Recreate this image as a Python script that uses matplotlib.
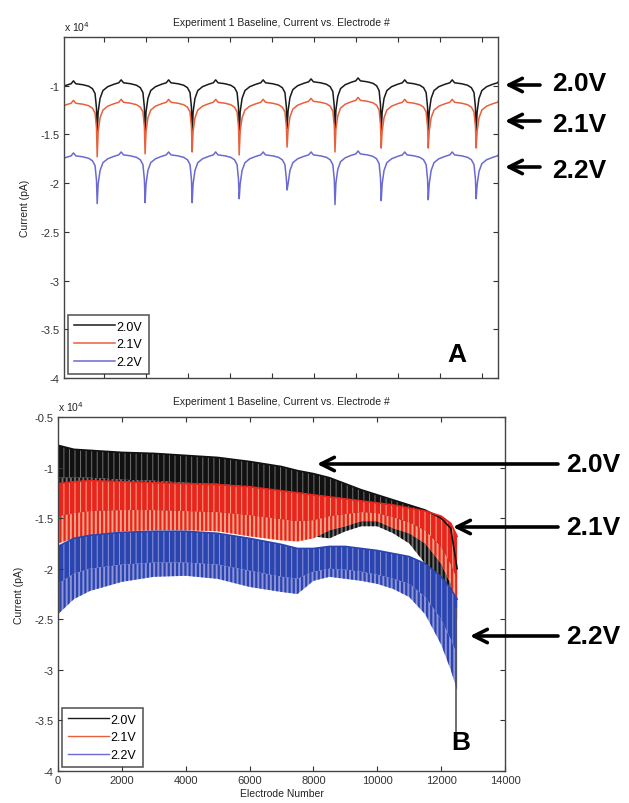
import numpy as np
import matplotlib
matplotlib.use("Agg")
import matplotlib.pyplot as plt
from matplotlib.ticker import FormatStrFormatter

plt.rcParams['font.family'] = ['Liberation Sans', 'DejaVu Sans']

# ---------------- panel A data (x in electrode #, y in 1e4 pA) ----------------
# electrode position of each dip (first and last lie just outside the axes)
a_dips = [-30, 83, 197, 309, 421, 535, 649, 759, 871, 985, 1098]
# shape of one arch between two dips: fraction of cycle, offset from plateau
arch_frac = [0.02, 0.06, 0.12, 0.22, 0.35, 0.45, 0.50, 0.55, 0.70, 0.82, 0.90, 0.955, 0.985]
arch_off = [-0.30, -0.16, -0.08, -0.04, -0.015, 0.0, 0.03, 0.0, -0.01, -0.025, -0.05, -0.10, -0.25]

black_plateau = [-0.98, -0.97, -0.97, -0.97, -0.97, -0.96, -0.95, -0.97, -0.97, -0.97]
red_plateau = [-1.18, -1.17, -1.17, -1.17, -1.17, -1.16, -1.15, -1.17, -1.17, -1.17]
blue_plateau = [-1.72, -1.71, -1.71, -1.71, -1.71, -1.71, -1.70, -1.71, -1.71, -1.72]

black_dip = [-1.50, -1.48, -1.53, -1.53, -1.55, -1.44, -1.49, -1.48, -1.48, -1.48, -1.50]
red_dip = [-1.70, -1.73, -1.70, -1.68, -1.71, -1.63, -1.68, -1.64, -1.64, -1.64, -1.70]
blue_dip = [-2.20, -2.21, -2.20, -2.20, -2.16, -2.07, -2.22, -2.18, -2.17, -2.16, -2.20]

# ---------------- panel B data: band envelopes (y in 1e4 pA) ----------------
xb = [0, 500, 1000, 2000, 3000, 4000, 5000, 6000, 7000, 7500, 8000, 8500,
      9000, 9500, 10000, 10500, 11000, 11500, 12000, 12300, 12500]

black_top = [-0.78, -0.82, -0.83, -0.85, -0.86, -0.88, -0.90, -0.94, -0.99, -1.03, -1.06, -1.10,
             -1.16, -1.22, -1.27, -1.32, -1.37, -1.42, -1.50, -1.60, -2.00]
black_mid = [-1.10, -1.10, -1.10, -1.12, -1.13, -1.15, -1.16, -1.19, -1.24, -1.27, -1.30, -1.34,
             -1.38, -1.42, -1.45, -1.50, -1.56, -1.70, -1.95, -2.15, -2.30]
black_bottom = [-1.55, -1.55, -1.55, -1.55, -1.55, -1.55, -1.55, -1.58, -1.62, -1.65, -1.68, -1.70,
                -1.63, -1.58, -1.58, -1.65, -1.75, -1.95, -2.25, -2.45, -2.50]
black_tail_x = [12470, 12470]
black_tail_y = [-2.40, -3.65]

red_top = [-1.16, -1.14, -1.13, -1.14, -1.15, -1.16, -1.17, -1.19, -1.23, -1.25, -1.27, -1.29,
           -1.31, -1.33, -1.35, -1.37, -1.40, -1.43, -1.48, -1.55, -1.68]
red_mid = [-1.48, -1.45, -1.43, -1.42, -1.42, -1.43, -1.44, -1.47, -1.51, -1.53, -1.52, -1.48,
           -1.46, -1.44, -1.45, -1.49, -1.54, -1.62, -1.78, -1.95, -2.10]
red_bottom = [-1.75, -1.70, -1.68, -1.63, -1.62, -1.62, -1.63, -1.68, -1.72, -1.73, -1.70, -1.62,
              -1.58, -1.53, -1.53, -1.60, -1.65, -1.75, -1.95, -2.15, -2.40]

blue_top = [-1.78, -1.70, -1.67, -1.64, -1.63, -1.63, -1.65, -1.70, -1.76, -1.80, -1.80, -1.78,
            -1.78, -1.80, -1.82, -1.85, -1.88, -1.95, -2.08, -2.20, -2.30]
blue_mid = [-2.15, -2.05, -2.00, -1.96, -1.94, -1.94, -1.96, -2.02, -2.08, -2.10, -2.03, -2.00,
            -2.01, -2.03, -2.06, -2.10, -2.15, -2.28, -2.50, -2.70, -2.85]
blue_bottom = [-2.45, -2.30, -2.22, -2.13, -2.08, -2.07, -2.10, -2.18, -2.23, -2.25, -2.12, -2.08,
               -2.10, -2.12, -2.15, -2.20, -2.28, -2.45, -2.75, -3.00, -3.20]

labels = ['2.0V', '2.1V', '2.2V']
title = 'Experiment 1 Baseline, Current vs. Electrode #'

W, H = 629, 804


def arch_series(dips, plateaus, depths):
    xs, ys = [], []
    for i in range(len(plateaus)):
        x0, x1 = dips[i], dips[i + 1]
        xs.append(x0)
        ys.append(depths[i])
        for f, off in zip(arch_frac, arch_off):
            xs.append(x0 + f * (x1 - x0))
            ys.append(plateaus[i] + off)
    xs.append(dips[-1])
    ys.append(depths[-1])
    return xs, ys


def style_axes(ax):
    ax.tick_params(direction='in', top=True, right=True, length=3.5, width=0.8,
                   labelsize=8, colors='#333333', pad=3)
    for s in ax.spines.values():
        s.set_color('#444444')
        s.set_linewidth(1.0)
    ax.yaxis.set_major_formatter(FormatStrFormatter('%g'))
    ax.set_title(title, fontsize=7.5, pad=9, color='#222222')
    ax.text(0, 1.012, r'x 10$^4$', transform=ax.transAxes, fontsize=7.5,
            ha='left', va='bottom', color='#222222')
    ax.set_ylabel('Current (pA)', fontsize=7.5, labelpad=8, color='#222222')


def fig_arrow(ax, tip_x, tail_x, y):
    ax.annotate('', xy=(tip_x, H - y), xytext=(tail_x, H - y),
                xycoords='figure pixels', textcoords='figure pixels',
                annotation_clip=False,
                arrowprops=dict(arrowstyle='->', lw=2.6, color='black',
                                mutation_scale=24, shrinkA=0, shrinkB=0))


def add_legend(ax):
    leg = ax.legend(loc='lower left', fontsize=9, handlelength=3.3, handletextpad=0.1,
                    labelspacing=0.45, borderpad=0.5, borderaxespad=0.3, fancybox=False,
                    frameon=True)
    leg.get_frame().set_edgecolor('#333333')
    leg.get_frame().set_linewidth(1.2)


fig = plt.figure(figsize=(W / 100, H / 100), dpi=100)

# ---------------- panel A ----------------
ax_a = fig.add_axes([64 / W, 1 - 379 / H, 434 / W, 341 / H])
for plat, dip, col, lab in [(black_plateau, black_dip, '#1a1a1a', labels[0]),
                            (red_plateau, red_dip, '#e8603c', labels[1]),
                            (blue_plateau, blue_dip, '#6a6ad2', labels[2])]:
    xs, ys = arch_series(a_dips, plat, dip)
    ax_a.plot(xs, ys, color=col, lw=1.1, label=lab)
ax_a.set_xlim(4, 1037)
ax_a.set_ylim(-4, -0.5)
ax_a.set_xticks(np.arange(100, 1001, 100))
ax_a.set_xticklabels([])
ax_a.set_yticks(np.arange(-4, -0.99, 0.5))
style_axes(ax_a)
add_legend(ax_a)
ax_a.text(0.905, 0.07, 'A', transform=ax_a.transAxes, fontsize=19, fontweight='bold',
          ha='center', va='center')

# ---------------- panel B ----------------
ax_b = fig.add_axes([58 / W, 1 - 772 / H, 447 / W, 354 / H])
bands = [(black_top, black_mid, black_bottom, '#111111', '#707070', labels[0], '#1a1a1a'),
         (red_top, red_mid, red_bottom, '#e8251c', '#f4a688', labels[1], '#e8603c'),
         (blue_top, blue_mid, blue_bottom, '#2b45b0', '#8e94d6', labels[2], '#6a6ad2')]
for top, mid, bottom, dark, light, lab, legcol in bands:
    # lower part: pale spikes with dark stripes
    with plt.rc_context({'hatch.linewidth': 1.6}):
        ax_b.fill_between(xb, bottom, mid, facecolor=light, edgecolor=dark,
                          hatch='||||', linewidth=0)
    # upper part: saturated with thin pale stripes
    with plt.rc_context({'hatch.linewidth': 0.7}):
        ax_b.fill_between(xb, mid, top, facecolor=dark, edgecolor=light,
                          hatch='|||', linewidth=0)
    ax_b.plot(xb, top, color=dark, lw=1.2)
    ax_b.plot([], [], color=legcol, lw=1.0, label=lab)
    if lab == labels[0]:
        ax_b.plot(black_tail_x, black_tail_y, color='#555555', lw=1.2)
ax_b.set_xlim(0, 14000)
ax_b.set_ylim(-4, -0.5)
ax_b.set_xticks(np.arange(0, 14001, 2000))
ax_b.set_yticks(np.arange(-4, -0.49, 0.5))
style_axes(ax_b)
ax_b.set_xlabel('Electrode Number', fontsize=7.5, labelpad=2, color='#222222')
add_legend(ax_b)
ax_b.text(0.9, 0.083, 'B', transform=ax_b.transAxes, fontsize=19, fontweight='bold',
          ha='center', va='center')

# ---------------- arrows and voltage labels ----------------
for y_arrow, y_text, lab in [(86, 84, labels[0]), (122, 125, labels[1]), (168, 171, labels[2])]:
    fig_arrow(ax_a, 505, 540, y_arrow)
    fig.text(552 / W, 1 - y_text / H, lab, fontsize=19, fontweight='bold',
             ha='left', va='center')
for tip, y_arrow, lab in [(317, 465, labels[0]), (453, 528, labels[1]), (470, 637, labels[2])]:
    fig_arrow(ax_b, tip, 558, y_arrow)
    fig.text(566 / W, 1 - y_arrow / H, lab, fontsize=19, fontweight='bold',
             ha='left', va='center')

fig.savefig('out.png', dpi=100)
